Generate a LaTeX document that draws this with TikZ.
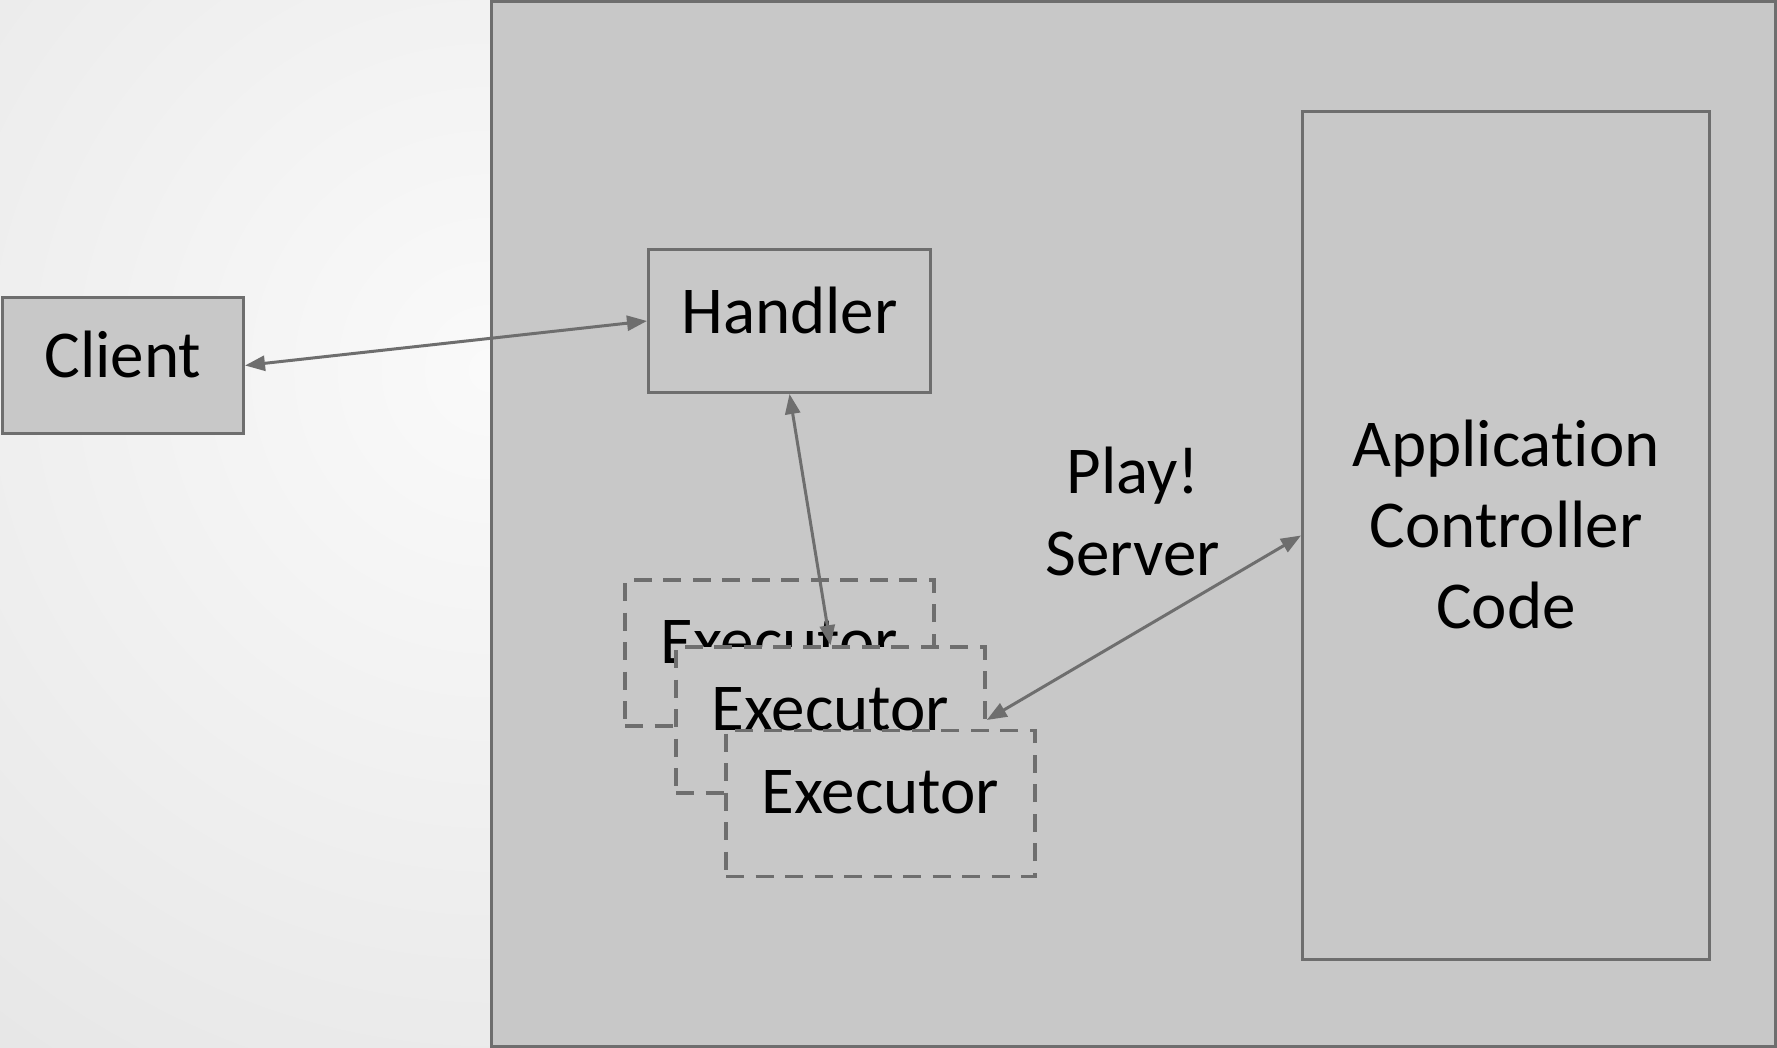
\documentclass[tikz,border=0pt]{standalone}
\usepackage{fontspec}
\setmainfont{Carlito}[Ligatures={NoCommon}]
\usetikzlibrary{arrows.meta}
\definecolor{bgin}{RGB}{250,250,250}
\definecolor{bgout}{RGB}{211,211,211}
\definecolor{boxfill}{RGB}{200,200,200}
\definecolor{linec}{RGB}{110,110,110}
\tikzset{
  box/.style={draw=linec, line width=3pt, fill=boxfill, inner sep=0pt, text depth=22pt,
    font=\fontsize{67}{81}\selectfont, align=center},
  dashbox/.style={box, line width=3.5pt, dash pattern=on 18pt off 11.5pt, minimum width=309pt, minimum height=146pt},
  lbl/.style={inner sep=0pt, font=\fontsize{67}{82}\selectfont, align=center},
  conn/.style={draw=linec, line width=3pt,
    {Triangle[length=20pt,width=15pt]}-{Triangle[length=20pt,width=15pt]}}
}
\begin{document}
\begin{tikzpicture}[x=1pt,y=-1pt]
\useasboundingbox (0,0) rectangle (1777,1048);
\begin{scope}
  \clip (0,0) rectangle (1777,1048);
  \shade[inner color=bgin, outer color=bgout] (490,370) circle (1700);
\end{scope}
\node[box, text depth=0pt, minimum width=1284pt, minimum height=1045pt] (server) at (1133,524) {};
\node[box, minimum width=241pt, minimum height=136pt] (client) at (123,365.5) {Client};
\node[box, minimum width=282pt, minimum height=143pt] (handler) at (789.5,321) {Handler};
\node[box, text depth=23pt, minimum width=407pt, minimum height=848pt] (app) at (1506,535.5) {Application\\Controller\\Code};
\node[dashbox] (e1) at (779.5,653) {Executor};
\node[dashbox] (e2) at (830.5,720) {Executor};
\node[dashbox] (e3) at (880.5,803.5) {Executor};
\node[lbl] (play) at (1133,511) {Play!\\Server};
\draw[conn] (client.east) -- (handler.west);
\draw[conn] (handler.south) -- (e2.north);
\draw[conn] (e2.east) -- (app.west);
\end{tikzpicture}
\end{document}
